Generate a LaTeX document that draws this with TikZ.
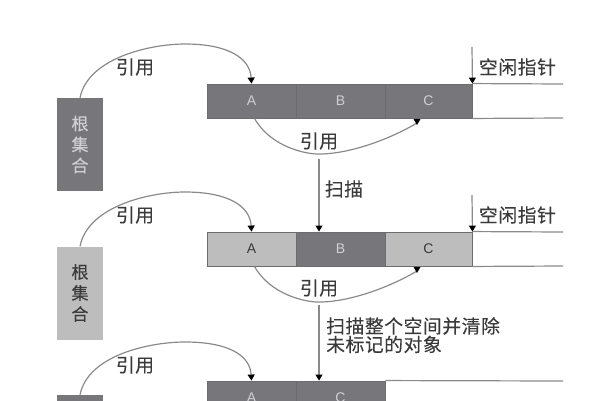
\documentclass[tikz,border=0pt]{standalone}
\usepackage{fontspec}
\setmainfont{Liberation Sans}
\newfontfamily\cjk[FakeBold=0.25,LetterSpace=3]{Noto Sans CJK SC}
\newfontfamily\cjkroot[FakeBold=0.3]{Noto Sans CJK SC}
\usetikzlibrary{arrows.meta}
\definecolor{darkcell}{HTML}{77777B}
\definecolor{lightcell}{HTML}{BDBDBD}
\definecolor{edgegray}{HTML}{6C6C70}
\definecolor{linegray}{HTML}{8A8A8A}
\definecolor{inkgray}{HTML}{3A3A3A}
\definecolor{palegray}{HTML}{D0D0D4}
\tikzset{
  x=1pt,y=-1pt,
  cell/.style={draw=edgegray,line width=0.9pt,inner sep=0pt,minimum height=34pt,font=\fontsize{14}{14}\selectfont},
  darkbox/.style={cell,fill=darkcell,text=palegray},
  lightbox/.style={cell,fill=lightcell,text=inkgray},
  rootdark/.style={draw=none,fill=darkcell,text=palegray,inner sep=0pt,minimum width=46pt,minimum height=93pt,align=center,font=\cjkroot\fontsize{17}{21}\selectfont},
  rootlight/.style={rootdark,fill=lightcell,text=inkgray},
  lab/.style={text=inkgray,inner sep=0pt,font=\cjk\fontsize{18.8}{16}\selectfont,align=left},
  refline/.style={draw=linegray,line width=1.2pt,-{Triangle[black,length=6pt,width=7pt]}},
  freeline/.style={draw=linegray,line width=1.2pt},
  headdown/.style={fill=black},
}
\begin{document}
\begin{tikzpicture}
\useasboundingbox (0,0) rectangle (610,400);
\clip (0,0) rectangle (610,400);
% row 1
\node[rootdark] (r1) at (80,144.5) {根\\集\\合};
\node[darkbox,minimum width=89pt] (a1) at (251.5,101) {A};
\node[darkbox,minimum width=89pt] (b1) at (340.5,101) {B};
\node[darkbox,minimum width=87pt] (c1) at (428.5,101) {C};
\coordinate (t1) at (563,84);
\coordinate (u1) at (563,118);
\coordinate (p1) at (472,47);
\coordinate (h1) at (417,123);
\draw[freeline] (c1.north east) -- (t1);
\draw[freeline] (c1.south east) -- (u1);
\draw[refline] (p1) -- (c1.north east);
\draw[refline] (r1.north) .. controls (88,58) and (150,44) .. (185,44) .. controls (228,44) and (250,58) .. (a1.north);
\draw[freeline] ([xshift=3pt]a1.south) .. controls (270,146) and (305,155) .. (322,154) .. controls (352,153) and (390,139) .. (h1);
\fill[headdown] (413.5,119) -- (420.5,119) -- (417,125) -- cycle;
\node[lab] (l1) at (135,67) {引用};
\node[lab] (l2) at (319,141) {引用};
\node[lab] (f1) at (517.5,67) {空闲指针};
\node[lab] (s1) at (344,189) {扫描};
% row 2
\node[rootlight] (r2) at (80,293) {根\\集\\合};
\node[lightbox,minimum width=89pt] (a2) at (251.5,249) {A};
\node[darkbox,minimum width=89pt] (b2) at (340.5,249) {B};
\node[lightbox,minimum width=87pt] (c2) at (428.5,249) {C};
\coordinate (t2) at (563,232);
\coordinate (u2) at (563,266);
\coordinate (p2) at (472,195);
\coordinate (h2) at (417,271);
\coordinate (q1) at (319,159);
\draw[freeline] (c2.north east) -- (t2);
\draw[freeline] (c2.south east) -- (u2);
\draw[refline] (q1) -- (b2.north -| q1);
\draw[refline] (p2) -- (c2.north east);
\draw[refline] (r2.north) .. controls (88,206) and (150,192) .. (185,192) .. controls (228,192) and (250,206) .. (a2.north);
\draw[freeline] ([xshift=3pt]a2.south) .. controls (270,294) and (305,303) .. (322,302) .. controls (352,301) and (390,287) .. (h2);
\fill[headdown] (413.5,267) -- (420.5,267) -- (417,273) -- cycle;
\node[lab] (l3) at (135,215) {引用};
\node[lab] (l4) at (319,288) {引用};
\node[lab] (f2) at (517.5,215) {空闲指针};
\node[lab,anchor=north west] (s2) at (326,317) {扫描整个空间并清除\\未标记的对象};
% row 3
\node[rootdark] (r3) at (80,441.5) {};
\node[darkbox,minimum width=89pt] (a3) at (251.5,398) {A};
\node[darkbox,minimum width=89pt] (c3) at (340.5,398) {C};
\coordinate (t3) at (563,381);
\coordinate (q2) at (319,305);
\draw[freeline] (c3.north east) -- (t3);
\draw[refline] (q2) -- (c3.north -| q2);
\draw[refline] (r3.north) .. controls (88,355) and (150,342) .. (185,342) .. controls (228,342) and (250,355) .. (a3.north);
\node[lab] (l5) at (135,365) {引用};
\end{tikzpicture}
\end{document}
